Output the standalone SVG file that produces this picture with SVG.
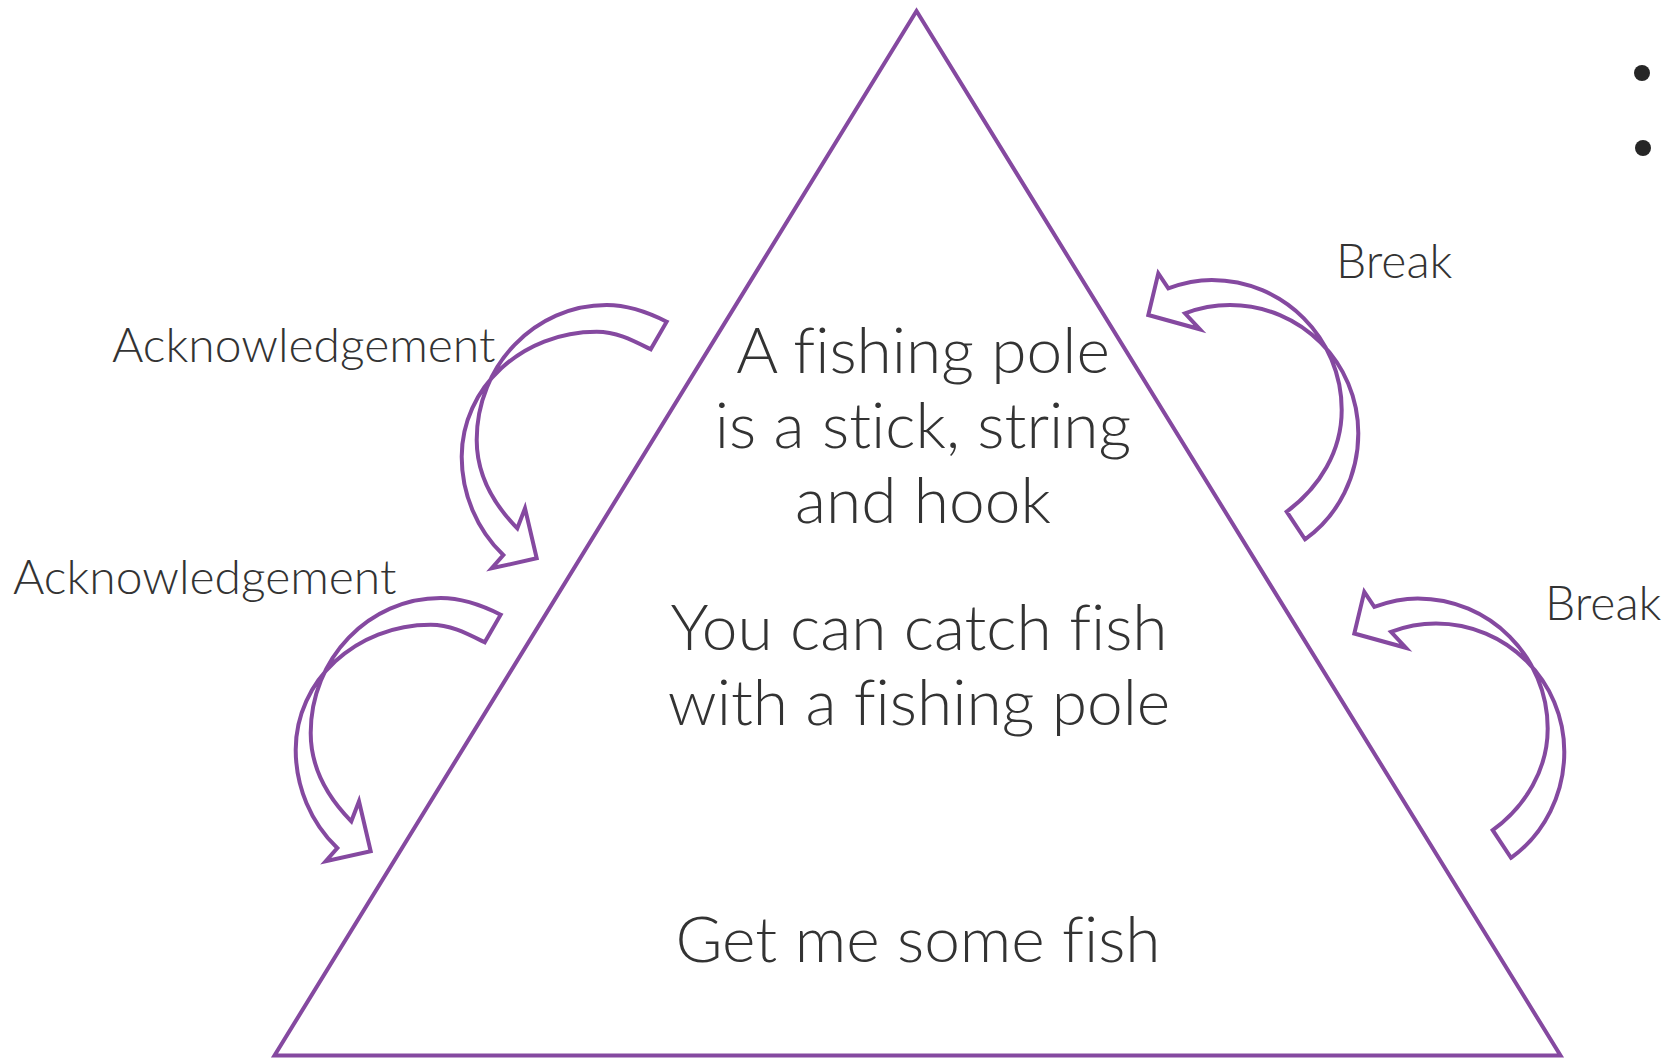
<svg xmlns="http://www.w3.org/2000/svg" xmlns:xlink="http://www.w3.org/1999/xlink" width="1667" height="1058" viewBox="0 0 1667 1058">
  <style>
    .shape { fill: none; stroke: #8549A0; stroke-width: 4; stroke-linejoin: miter; }
    text { font-variant-ligatures: none; font-feature-settings: "liga" 0; }
    .main { font-family: Lato, "Liberation Sans", sans-serif; font-weight: 300; font-size: 64px; fill: #333333; text-anchor: middle; }
    .label { font-family: Lato, "Liberation Sans", sans-serif; font-weight: 300; font-size: 48px; fill: #333333; }
    .bullet { fill: #262626; }
  </style>
  <defs>
    <path id="ackArrow" d="M666.7,321.7 C648,312.2 627.7,305 606.7,305 C534.9,305 476.7,365.5 476.7,440 C476.7,474.5 493.2,503.8 517.3,528.3 L525,508.3 L536.7,558.3 L491.7,568.3 L503.3,555 C476.7,529.5 461.7,493.7 461.7,456.7 C461.7,387.7 522.2,331.7 596.7,331.7 C616.7,331.7 632.7,340.3 650.7,349.3 Z"/>
    <path id="breakArrow" d="M1286.7,511.7 C1319.8,487.3 1341.7,451 1341.7,410 C1341.7,338.2 1283.5,280 1211.7,280 C1196.8,280 1182.3,283.3 1168.3,288.3 L1158.3,273.3 L1148.3,315 L1200,329.3 L1185,313.3 C1199.4,307.9 1214.6,305 1230,305 C1300.7,305 1358.3,362.6 1358.3,433.3 C1358.3,474.9 1339,515.3 1305,539.3 Z"/>
  </defs>

  <g id="pyramid">
    <polygon class="shape" points="916.5,11 274.5,1055.5 1560.5,1055.5"/>
  </g>

  <g id="node-top">
    <text class="main" x="923" y="373">A fishing pole</text>
    <text class="main" x="923" y="448">is a stick, string</text>
    <text class="main" x="923" y="523">and hook</text>
  </g>
  <g id="node-middle">
    <text class="main" x="919" y="650">You can catch fish</text>
    <text class="main" x="919" y="725">with a fishing pole</text>
  </g>
  <g id="node-bottom">
    <text class="main" x="918" y="962">Get me some fish</text>
  </g>

  <g id="labels">
    <text class="label" x="112" y="362">Acknowledgement</text>
    <text class="label" x="13" y="594">Acknowledgement</text>
    <text class="label" x="1336" y="278">Break</text>
    <text class="label" x="1545" y="620">Break</text>
  </g>

  <g id="bullets">
    <circle class="bullet" cx="1642" cy="73" r="8"/>
    <circle class="bullet" cx="1643" cy="148" r="8"/>
  </g>

  <g id="connectors">
    <use xlink:href="#ackArrow" class="shape"/>
    <use xlink:href="#ackArrow" class="shape" transform="translate(-166,293)"/>
    <use xlink:href="#breakArrow" class="shape"/>
    <use xlink:href="#breakArrow" class="shape" transform="translate(206,318.5)"/>
  </g>
</svg>
